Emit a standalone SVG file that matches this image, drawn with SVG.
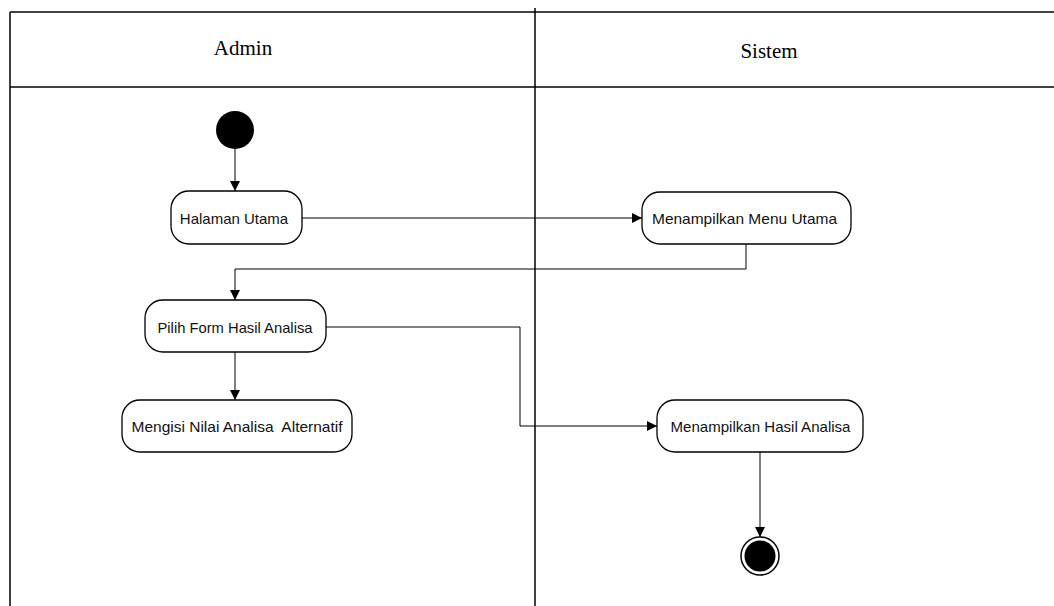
<svg xmlns="http://www.w3.org/2000/svg" width="1054" height="606" viewBox="0 0 1054 606">
<defs>
<marker id="arr" viewBox="0 0 10 10" refX="10" refY="5" markerWidth="10" markerHeight="10" markerUnits="userSpaceOnUse" orient="auto">
<path d="M0,0 L10,5 L0,10 z" fill="#000"/>
</marker>
<style>
.lane{stroke:#000;stroke-width:1.5;fill:none}
.hdr{font-family:"Liberation Serif",serif;font-size:21px;fill:#000;text-anchor:middle}
.box{fill:#fff;stroke:#000;stroke-width:1.3}
.lbl{font-family:"Liberation Sans",Arial,sans-serif;font-size:15px;fill:#111;text-anchor:middle;dominant-baseline:central}
.edge{stroke:#000;stroke-width:1;fill:none;marker-end:url(#arr)}
</style>
</defs>
<g id="swimlanes">
<line class="lane" x1="10" y1="12" x2="1054" y2="12"/>
<line class="lane" x1="10" y1="87" x2="1054" y2="87"/>
<line class="lane" x1="10" y1="12" x2="10" y2="606"/>
<line class="lane" x1="535" y1="8" x2="535" y2="606"/>
<text class="hdr" x="243" y="55">Admin</text>
<text class="hdr" x="769" y="58">Sistem</text>
</g>
<g id="connectors">
<path class="edge" d="M235,149 V191"/>
<path class="edge" d="M302,218 H642"/>
<path class="edge" d="M746,244 V269 H235 V300"/>
<path class="edge" d="M326,327 H520 V426 H657"/>
<path class="edge" d="M235,352 V400"/>
<path class="edge" d="M760,452 V537"/>
</g>
<g id="start">
<circle cx="235" cy="130" r="19" fill="#000"/>
</g>
<g id="halaman-utama">
<rect class="box" x="171" y="191" width="131" height="53" rx="18"/>
<text class="lbl" x="234" y="218">Halaman Utama</text>
</g>
<g id="menampilkan-menu-utama">
<rect class="box" x="642" y="192" width="209" height="52" rx="18"/>
<text class="lbl" x="744.5" y="218" textLength="185" lengthAdjust="spacingAndGlyphs">Menampilkan Menu Utama</text>
</g>
<g id="pilih-form">
<rect class="box" x="145" y="300" width="181" height="52" rx="18"/>
<text class="lbl" x="235" y="327" textLength="155" lengthAdjust="spacingAndGlyphs">Pilih Form Hasil Analisa</text>
</g>
<g id="mengisi-nilai">
<rect class="box" x="122" y="400" width="230" height="52" rx="18"/>
<text class="lbl" x="237" y="426" xml:space="preserve" textLength="211" lengthAdjust="spacingAndGlyphs">Mengisi Nilai Analisa  Alternatif</text>
</g>
<g id="menampilkan-hasil">
<rect class="box" x="657" y="400" width="206" height="52" rx="18"/>
<text class="lbl" x="760.5" y="426" textLength="180" lengthAdjust="spacingAndGlyphs">Menampilkan Hasil Analisa</text>
</g>
<g id="end">
<circle cx="760" cy="556" r="19" fill="#fff" stroke="#000" stroke-width="1.5"/>
<circle cx="760" cy="556" r="15.5" fill="#000"/>
</g>
</svg>
